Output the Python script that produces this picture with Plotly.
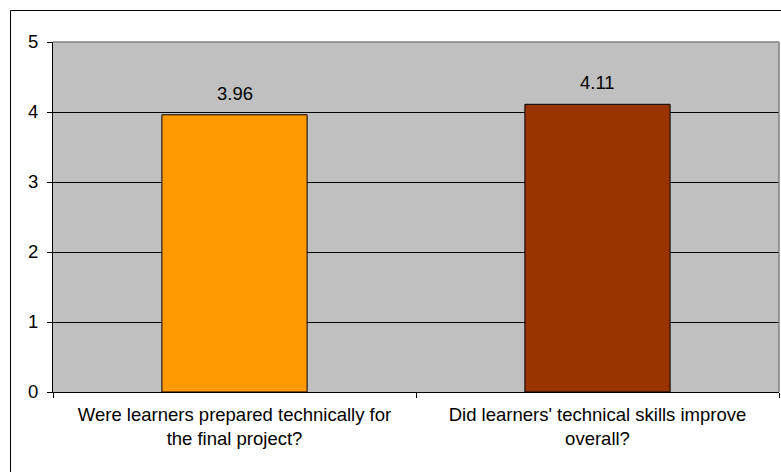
import plotly.graph_objects as go

# Survey results: mean rating on a 0-5 scale
questions = [
    "Were learners prepared technically for<br>the final project?",
    "Did learners' technical skills improve<br>overall?",
]
ratings = [3.96, 4.11]
bar_colors = ["#FF9900", "#993300"]
y_ticks = [0, 1, 2, 3, 4, 5]

W, H = 781, 472
L, R, T, B = 53, 2, 42, 80
pw, ph = W - L - R, H - T - B

font_family = "Liberation Sans, Arial, sans-serif"
fs = 18.5

fig = go.Figure(
    go.Bar(
        x=questions,
        y=ratings,
        marker=dict(color=bar_colors, line=dict(color="#000000", width=1)),
        width=0.4,
        hoverinfo="skip",
    )
)

# value labels above each bar
for q, v in zip(questions, ratings):
    fig.add_annotation(
        x=q, y=v, text=f"{v:.2f}", showarrow=False,
        yanchor="bottom", yshift=9,
        font=dict(family=font_family, size=fs, color="#000000"),
    )

# plot-area frame: grey on top and right
fig.add_shape(type="line", xref="paper", yref="paper", x0=0, x1=1, y0=1, y1=1,
              line=dict(color="#808080", width=1.5), layer="above")
fig.add_shape(type="line", xref="paper", yref="paper", x0=1, x1=1, y0=0, y1=1,
              line=dict(color="#808080", width=1.5), layer="above")

# outer chart border
fig.add_shape(type="rect", xref="paper", yref="paper",
              x0=(10.5 - L) / pw, x1=1 + 20 / pw,
              y0=-(B + 20) / ph, y1=1 + (T - 10.5) / ph,
              line=dict(color="#000000", width=1), layer="above")

fig.update_layout(
    width=W, height=H,
    margin=dict(l=L, r=R, t=T, b=B, pad=0),
    paper_bgcolor="#FFFFFF",
    plot_bgcolor="#C0C0C0",
    showlegend=False,
    font=dict(family=font_family, size=fs, color="#000000"),
    xaxis=dict(
        type="category",
        tickson="boundaries",
        ticks="outside", ticklen=5, tickcolor="#000000", tickwidth=1,
        ticklabelstandoff=6,
        showline=True, linecolor="#000000", linewidth=1,
        showgrid=False,
        tickfont=dict(family=font_family, size=fs, color="#000000"),
    ),
    yaxis=dict(
        range=[0, 5],
        tickvals=y_ticks,
        ticks="outside", ticklen=5, tickcolor="#000000", tickwidth=1,
        ticklabelstandoff=5,
        showline=True, linecolor="#000000", linewidth=1,
        showgrid=True, gridcolor="#000000", gridwidth=1,
        zeroline=False,
        tickfont=dict(family=font_family, size=fs, color="#000000"),
    ),
)

fig.write_html("out.html")
